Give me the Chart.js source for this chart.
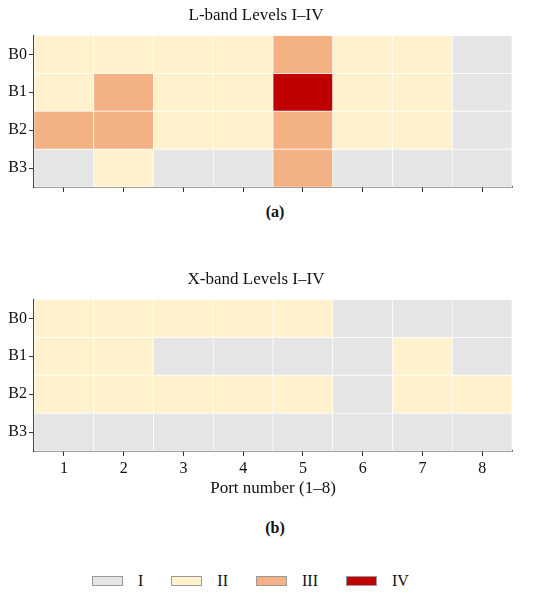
<!DOCTYPE html>
<html>
<head>
<meta charset="utf-8">
<script src="https://cdn.jsdelivr.net/npm/chart.js@4.4.0/dist/chart.umd.min.js"></script>
<style>
  body { margin: 0; background: #fff; font-family: "Liberation Serif", serif; }
  #wrap { position: relative; width: 550px; height: 597px; }
  .cv { position: absolute; left: 0; }
  .cap { position: absolute; left: 0; width: 550px; text-align: center; font-weight: bold; font-size: 16px; color: #111; }
  #legend { position: absolute; top: 572px; left: 78px; display: flex; font-size: 16px; color: #111; }
  .item { display: flex; align-items: center; margin: 0 14px; }
  .box { width: 29px; height: 8px; border: 1.5px solid #999; margin-right: 15px; }
</style>
</head>
<body>
<div id="wrap">
  <div class="cv" style="top:0;width:550px;height:200px"><canvas id="chL"></canvas></div>
  <div class="cap" style="top:203px">(a)</div>
  <div class="cv" style="top:264px;width:550px;height:239px"><canvas id="chX"></canvas></div>
  <div class="cap" style="top:519px">(b)</div>
  <div id="legend"></div>
</div>
<script>
// heatmap data: level per port (1..4 = I..IV)
var ports = ['1','2','3','4','5','6','7','8'];
var beams = ['B0','B1','B2','B3'];
var levelNames = ['I','II','III','IV'];
var levelColors = ['#e5e5e5','#fff2cc','#f4b183','#c00000'];

// L-band
var lB0 = [2,2,2,2,3,2,2,1];
var lB1 = [2,3,2,2,4,2,2,1];
var lB2 = [3,3,2,2,3,2,2,1];
var lB3 = [1,2,1,1,3,1,1,1];

// X-band
var xB0 = [2,2,2,2,2,1,1,1];
var xB1 = [2,2,1,1,1,1,2,1];
var xB2 = [2,2,2,2,2,1,2,2];
var xB3 = [1,1,1,1,1,1,1,1];

var serif = '"Liberation Serif", "Times New Roman", serif';
Chart.defaults.font.family = serif;
Chart.defaults.color = '#111';

function heatmap(id, title, rows, showX) {
  var datasets = rows.map(function (r, i) {
    return {
      label: beams[i],
      data: r.map(function () { return 1; }),
      levels: r,
      backgroundColor: r.map(function (v) { return levelColors[v - 1]; }),
      borderColor: '#ffffff',
      borderWidth: 0.7,
      borderSkipped: false,
      barPercentage: 1,
      categoryPercentage: 1
    };
  });
  return new Chart(document.getElementById(id), {
    type: 'bar',
    data: { labels: ports, datasets: datasets },
    options: {
      responsive: true,
      maintainAspectRatio: false,
      animation: false,
      layout: { padding: { left: 0, right: 38, top: 0, bottom: 0 } },
      plugins: {
        legend: { display: false },
        tooltip: { enabled: false },
        title: {
          display: true, text: title, color: '#111',
          font: { size: 17, weight: 'normal' },
          padding: { top: 5, bottom: 10 }
        }
      },
      scales: {
        x: {
          stacked: true,
          grid: { drawOnChartArea: false, offset: false, tickLength: 5, color: '#333' },
          border: { color: '#444', width: 1.5 },
          ticks: {
            display: showX, padding: 3,
            font: { size: 16 }, color: '#111'
          },
          title: {
            display: showX, text: 'Port number (1–8)',
            font: { size: 17 }, color: '#111', padding: { top: 0, bottom: 4 }
          },
          afterFit: function (s) { s.height = showX ? 52 : 13; }
        },
        y: {
          stacked: true, reverse: true, min: 0, max: 4,
          grid: { drawOnChartArea: false, tickLength: 5, color: '#333' },
          border: { color: '#444', width: 1.5 },
          afterBuildTicks: function (s) {
            s.ticks = [0.5, 1.5, 2.5, 3.5].map(function (v) { return { value: v }; });
          },
          ticks: {
            padding: 2, font: { size: 16 }, color: '#111',
            callback: function (v) { return beams[Math.floor(v)]; }
          },
          afterFit: function (s) { s.width = 34; }
        }
      }
    }
  });
}

heatmap('chL', 'L-band Levels I–IV', [lB0, lB1, lB2, lB3], false);
heatmap('chX', 'X-band Levels I–IV', [xB0, xB1, xB2, xB3], true);

// legend
var lg = document.getElementById('legend');
levelNames.forEach(function (n, i) {
  var it = document.createElement('div');
  it.className = 'item';
  it.innerHTML = '<span class="box" style="background:' + levelColors[i] + '"></span><span>' + n + '</span>';
  lg.appendChild(it);
});
</script>
</body>
</html>
